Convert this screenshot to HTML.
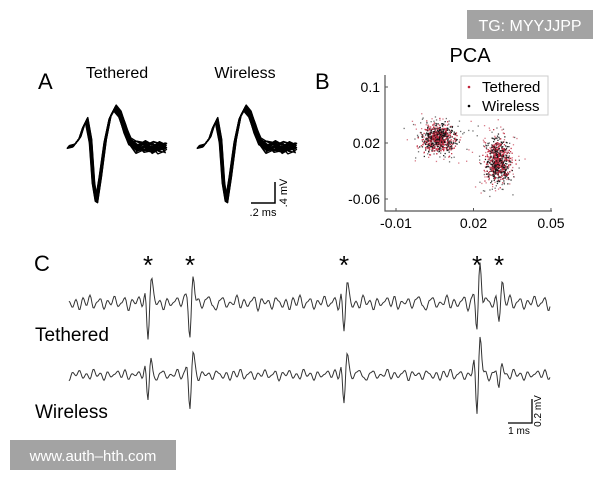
<!DOCTYPE html>
<html><head><meta charset="utf-8">
<style>
body{margin:0;background:#fff;}
svg{display:block;font-family:"Liberation Sans",Arial,sans-serif;}
</style></head>
<body>
<svg id="fig" width="600" height="480" viewBox="0 0 600 480">
  <rect x="467" y="10" width="126" height="29" fill="#a3a3a3"/>
  <text x="530" y="31" font-size="16" fill="#fff" text-anchor="middle">TG: MYYJJPP</text>

  <text x="38" y="89" font-size="22">A</text>
  <text x="117" y="78" font-size="16" text-anchor="middle">Tethered</text>
  <text x="245" y="78" font-size="16" text-anchor="middle">Wireless</text>
  <g id="wfT"></g>
  <g id="wfW"></g>
  <g>
    <path d="M251 203 H275 V182" fill="none" stroke="#000" stroke-width="1.5"/>
    <text x="263" y="216" font-size="11" text-anchor="middle">.2 ms</text>
    <text transform="translate(287,193) rotate(-90)" font-size="11" text-anchor="middle">.4 mV</text>
  </g>

  <text x="315" y="89" font-size="22">B</text>
  <text x="470" y="62" font-size="20" text-anchor="middle">PCA</text>
  <g id="scatter"></g>
  <g id="axes"></g>
  <g>
    <rect x="461" y="76" width="87" height="39" fill="#fff" stroke="#ccc"/>
    <circle cx="469" cy="87" r="1.3" fill="#c0243a"/>
    <text x="482" y="92" font-size="15">Tethered</text>
    <circle cx="469" cy="106" r="1.3" fill="#000"/>
    <text x="482" y="111" font-size="15">Wireless</text>
  </g>

  <text x="34" y="271" font-size="22">C</text>
  <g id="stars"></g>
  <g id="traces"></g>
  <text x="35" y="341" font-size="19">Tethered</text>
  <text x="35" y="418" font-size="19">Wireless</text>
  <g>
    <path d="M508 423 H532 V399" fill="none" stroke="#000" stroke-width="1.3"/>
    <text x="519" y="434" font-size="10" text-anchor="middle">1 ms</text>
    <text transform="translate(541,411) rotate(-90)" font-size="10" text-anchor="middle">0.2 mV</text>
  </g>
  <rect x="10" y="440" width="166" height="30" fill="#a3a3a3"/>
  <text x="93" y="461" font-size="15" fill="#fff" text-anchor="middle">www.auth–hth.com</text>
</svg>
<script>
const NS="http://www.w3.org/2000/svg";
// ---- Panel A data ----
const waveTimes=[0,0.06,0.12,0.16,0.19,0.23,0.26,0.29,0.33,0.38,0.43,0.48,0.53,0.58,0.63,0.7,0.78,0.86,0.93,1.0];
const waveValues=[0,0.05,0.3,0.7,0.9,0.2,-1.2,-1.83,-1.0,0.2,1.0,1.3,1.1,0.6,0.15,0,0.02,-0.02,0.01,0];
const waveJitter=[0,0.15,-0.12,0.25,-0.2,0.08,-0.3,0.3,-0.05,0.18,-0.22,0.1,-0.15,0.35,-0.28,0.05,0.22,-0.1,0.12,-0.35,0.4,-0.42];
// ---- Panel B data ----
const pcaXTicks=[-0.01,0.02,0.05];
const pcaYTicks=[0.1,0.02,-0.06];
const clusterCenterX=[0.0063,0.0293];
const clusterCenterY=[0.027,-0.004];
const clusterSdX=[0.0045,0.0035];
const clusterSdY=[0.014,0.022];
// ---- Panel C data ----
const spikeTimes=[148,190,344,477,499];
const spikePeakT=[0.45,0.5,0.36,0.78,0.34];
const spikeTroughT=[0.67,0.66,0.57,0.59,0.26];
const spikePeakW=[0.3,0.4,0.4,0.76,0.26];
const spikeTroughW=[0.56,0.66,0.56,0.8,0.34];
const noise=[0.02,-0.05,0.04,-0.08,0.06,-0.03,0.09,-0.06,0.01,0.05,-0.07,0.03,-0.02,0.08,-0.04,0.0,0.06,-0.09,0.04,-0.01,0.07,-0.05,0.02,-0.06,0.09,-0.02,0.03,-0.08,0.05,-0.03,0.01,0.06,-0.04,0.08,-0.07,0.02,-0.01,0.05,-0.06,0.04,0.07,-0.03,-0.08,0.03,0.06,-0.05,0.01,-0.02,0.09,-0.06,0.04,-0.04,0.02,0.07,-0.09,0.05,-0.01,0.03,-0.07,0.06];

function el(tag,attrs,parent){const e=document.createElementNS(NS,tag);for(const k in attrs)e.setAttribute(k,attrs[k]);parent.appendChild(e);return e;}

// Panel A
function drawWaves(g,x0,x1){
  const sx=t=>x0+t*(x1-x0), sy=v=>147-v*30;
  waveJitter.forEach((j,i)=>{
    const d=waveTimes.map((t,k)=>{
      const amp=1+j*0.1;
      const tail=k>12?waveJitter[(i*3+k*5)%waveJitter.length]*(k>14?0.45:0.25):0;
      const off=j*0.12+tail;
      return (k?'L':'M')+(sx(t)+j*3).toFixed(1)+' '+sy(waveValues[k]*amp+off).toFixed(1);}).join(' ');
    const p=el('path',{d:d,fill:'none',stroke:'#000','stroke-width':1.3,'stroke-linejoin':'round'},g);
    
    
  });
}
drawWaves(document.getElementById('wfT'),68,166);
drawWaves(document.getElementById('wfW'),198,296);

// Panel B
const ax=document.getElementById('axes');
const xS=v=>396+(v+0.01)*2583, yS=v=>87+(0.1-v)*700;
el('path',{d:'M385 75 V211 H552',fill:'none',stroke:'#555','stroke-width':1.2},ax);
pcaXTicks.forEach(t=>{el('line',{x1:xS(t),x2:xS(t),y1:211,y2:208,stroke:'#555'},ax);const tx=el('text',{x:xS(t),y:228,'font-size':14,'text-anchor':'middle'},ax);tx.textContent=t;});
pcaYTicks.forEach(t=>{el('line',{x1:385,x2:388,y1:yS(t),y2:yS(t),stroke:'#555'},ax);const tx=el('text',{x:380,y:yS(t)+5,'font-size':14,'text-anchor':'end'},ax);tx.textContent=t;});
const sc=document.getElementById('scatter');
let seed=12345;function rnd(){seed=(seed*1103515245+12345)%2147483648;return seed/2147483648;}
function gauss(){return (rnd()+rnd()+rnd()+rnd()-2)*1.22;}
for(let c=0;c<2;c++){for(let i=0;i<750;i++){
  const wide=i%5===0?1.6:1.0;
  const x=clusterCenterX[c]+gauss()*clusterSdX[c]*wide, y=clusterCenterY[c]+gauss()*clusterSdY[c]*wide;
  const r=el('rect',{x:xS(x).toFixed(1),y:yS(y).toFixed(1),width:1.3,height:1.3,fill:i%2?'#c0243a':'#111',opacity:wide>1?0.6:0.9},sc);
}}

// Panel C
const tr=document.getElementById('traces');
function trace(base,peaks,troughs,nscale,shift){
  const xs=[];for(let x=69;x<=550;x+=1)xs.push(x);
  const yScale=55;
  const d=xs.map((x,i)=>{
    const f=(x-69)/3.5, n0=Math.floor(f), fr=f-n0;
    const a=noise[(n0+shift)%noise.length], b=noise[(n0+1+shift)%noise.length];
    let v=(a+(b-a)*(1-Math.cos(fr*Math.PI))/2)*nscale;
    spikeTimes.forEach((st,k)=>{const dt=x-st;
      v-=troughs[k]*Math.exp(-dt*dt/3);
      v+=peaks[k]*Math.exp(-(dt-3)*(dt-3)/4);
      v+=troughs[k]*0.3*Math.exp(-(dt+3)*(dt+3)/2.5);});
    return (i?'L':'M')+x.toFixed(1)+' '+(base-v*yScale).toFixed(1);}).join(' ');
  const p=el('path',{d:d,fill:'none',stroke:'#333','stroke-width':1},tr);
  
  
}
trace(303,spikePeakT,spikeTroughT,1.6,0);
trace(375,spikePeakW,spikeTroughW,1.2,17);
const stars=document.getElementById('stars');
spikeTimes.forEach(t=>{const s=el('text',{x:t,y:274,'font-size':26,'text-anchor':'middle'},stars);s.textContent='*';});
</script>
</body></html>
